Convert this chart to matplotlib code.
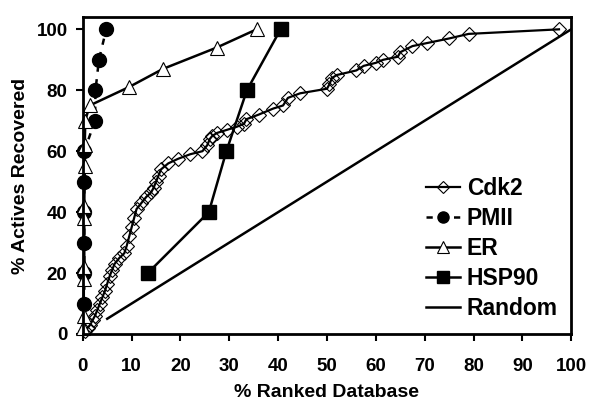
import matplotlib
matplotlib.use("Agg")
import matplotlib.pyplot as plt

# Cdk2 enrichment
cdk2_x = [0.5, 1, 1.5, 2, 2.5, 3, 3.5, 4, 4.5, 5, 5.5, 6, 6.5, 7.5, 8.5, 9, 9.5, 10,
          10.5, 11, 12, 13, 14, 14.5, 15, 15.5, 16, 17.5, 19.5, 22, 24.5, 25.5, 26,
          26.5, 27.5, 29.5, 31.5, 33, 33.5, 36, 39, 41, 42, 44.5, 50, 50.5, 51, 52,
          56, 57.5, 60, 61.5, 64.5, 65, 67.5, 70.5, 75, 79, 97.5]
cdk2_y = [1, 2, 3, 4.5, 6, 8, 10, 12, 14, 16.5, 19, 21, 23, 25, 26.5, 29, 32, 35,
          38, 41, 43, 45, 46.5, 48, 50, 52, 54, 56, 57.5, 59, 60, 62, 64, 65, 66,
          67, 68, 69, 70.5, 72, 74, 75, 77.5, 79, 80.5, 82, 84, 85, 86.5, 88, 89,
          90, 91, 92.5, 94.5, 95.5, 97, 98.5, 100]

# PMII
pmii_x = [0.3, 0.3, 0.3, 0.3, 0.3, 0.3, 2.5, 2.6, 3.3, 4.8]
pmii_y = [10, 20, 30, 40, 50, 60, 70, 80, 90, 100]

# ER
er_x = [0.1, 0.2, 0.2, 0.3, 0.3, 0.3, 0.4, 0.4, 0.5, 1.4, 9.4, 16.4, 27.4, 35.6]
er_y = [2, 6, 18, 22, 38, 42, 55, 62, 70, 75, 81, 87, 94, 100]

# HSP90
hsp_x = [13.3, 25.8, 29.4, 33.6, 40.5]
hsp_y = [20, 40, 60, 80, 100]

# Random
rand_x = [5, 100]
rand_y = [5, 100]

plt.rcParams['font.family'] = ['Liberation Sans', 'DejaVu Sans']
plt.rcParams['font.weight'] = 'bold'

fig = plt.figure(figsize=(6, 4.18), dpi=100)
ax = fig.add_axes([0.138, 0.201, 0.814, 0.758])

ax.plot(cdk2_x, cdk2_y, color='black', lw=1.6, marker='D', ms=7.5,
        mfc='none', mec='black', mew=0.8, label='Cdk2', clip_on=False)
ax.plot(pmii_x, pmii_y, color='black', lw=1.8, ls=(0, (2.5, 3)), marker='o',
        ms=10, mfc='black', mec='black', label='PMII', clip_on=False)
ax.plot(er_x, er_y, color='black', lw=1.8, marker='^', ms=10,
        mfc='white', mec='black', mew=0.8, label='ER', clip_on=False)
ax.plot(hsp_x, hsp_y, color='black', lw=1.8, marker='s', ms=10,
        mfc='black', mec='black', label='HSP90', clip_on=False)
ax.plot(rand_x, rand_y, color='black', lw=1.8, label='Random')

ax.set_xlim(0, 100)
ax.set_ylim(0, 104)
ax.set_xticks(range(0, 101, 10))
ax.set_yticks(range(0, 101, 20))
for s in ax.spines.values():
    s.set_linewidth(2)
ax.tick_params(direction='out', length=5, width=1.5, labelsize=13.5)
ax.tick_params(axis='x', pad=12)
ax.tick_params(axis='y', pad=6)
for lab in ax.get_xticklabels() + ax.get_yticklabels():
    lab.set_fontweight('bold')

ax.set_xlabel('% Ranked Database', fontsize=14, fontweight='bold', labelpad=7)
ax.set_ylabel('% Actives Recovered', fontsize=14, fontweight='bold', labelpad=5)

leg = ax.legend(loc='lower right', bbox_to_anchor=(1.015, -0.02), frameon=False,
                fontsize=16.5, handlelength=1.5, handletextpad=0.3,
                labelspacing=0.3, markerscale=0.8)
for t in leg.get_texts():
    t.set_fontweight('bold')

fig.savefig('out.png', dpi=100)
